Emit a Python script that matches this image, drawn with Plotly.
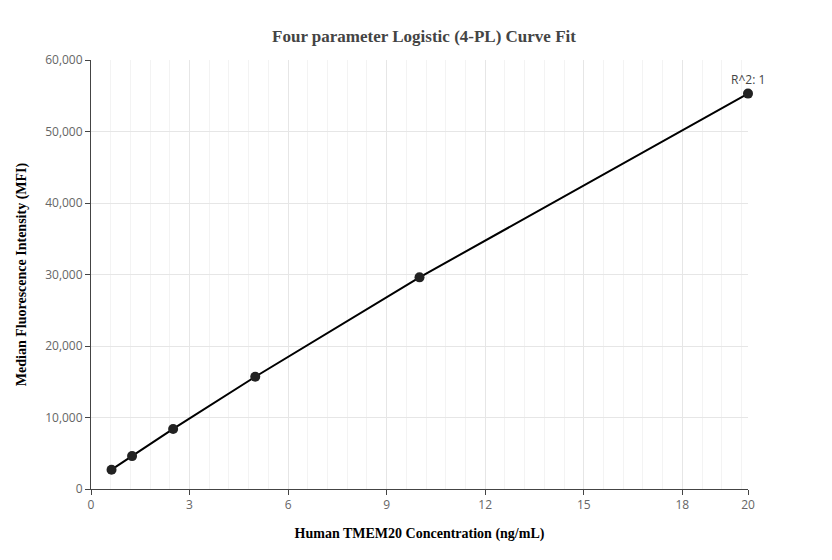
import plotly.graph_objects as go

conc = [0.625, 1.25, 2.5, 5, 10, 20]
mfi = [2700, 4600, 8400, 15700, 29600, 55300]
r2_label = "R^2: 1"

fig = go.Figure()
fig.add_trace(go.Scatter(x=conc, y=mfi, mode="lines+markers", cliponaxis=False,
                         line=dict(color="black", width=2),
                         marker=dict(color="#222", size=10), showlegend=False))
fig.add_annotation(x=conc[-1], y=mfi[-1], text=r2_label, showarrow=False,
                   yshift=14, font=dict(family="Open Sans", size=12, color="#444"))

fig.update_layout(
    width=832, height=560, plot_bgcolor="white", paper_bgcolor="white",
    margin=dict(l=75, r=92, t=52, b=79),
    title=dict(text="<b>Four parameter Logistic (4-PL) Curve Fit</b>", x=0.5, y=0.96,
               font=dict(family="Times New Roman, Liberation Serif", size=17, color="#444")),
)
fig.update_xaxes(range=[0, 20], tickvals=[0, 3, 6, 9, 12, 15, 18, 20],
                 showline=True, linecolor="#444", linewidth=1, ticks="outside", ticklen=5,
                 gridcolor="#e6e6e6", minor=dict(dtick=0.6, showgrid=True, gridcolor="#f3f3f3"),
                 zeroline=False, tickfont=dict(family="Open Sans", size=12, color="#666"),
                 title=dict(text="<b>Human TMEM20 Concentration (ng/mL)</b>", standoff=15,
                            font=dict(family="Times New Roman, Liberation Serif", size=14, color="black")))
fig.update_yaxes(range=[0, 60000], dtick=10000, tickformat=",",
                 showline=True, linecolor="#444", linewidth=1, ticks="outside", ticklen=5,
                 gridcolor="#e6e6e6", zeroline=False,
                 tickfont=dict(family="Open Sans", size=12, color="#666"),
                 title=dict(text="<b>Median Fluorescence Intensity (MFI)</b>",
                            font=dict(family="Times New Roman, Liberation Serif", size=14, color="black")))
fig.write_html("out.html")
